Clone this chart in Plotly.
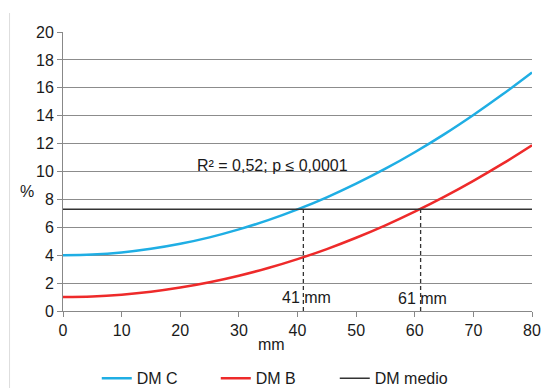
import plotly.graph_objects as go

mm = [0, 5, 10, 15, 20, 25, 30, 35, 40, 45, 50, 55, 60, 65, 70, 75, 80]
dm_c = [4.0, 4.05, 4.2, 4.46, 4.82, 5.28, 5.85, 6.51, 7.28, 8.15, 9.13, 10.2, 11.38, 12.66, 14.05, 15.53, 17.1]
dm_b = [1.0, 1.04, 1.17, 1.38, 1.68, 2.06, 2.53, 3.08, 3.72, 4.44, 5.25, 6.14, 7.12, 8.18, 9.33, 10.56, 11.88]
dm_medio = 7.3
cut_c = 41
cut_b = 61
x_ticks = [0, 10, 20, 30, 40, 50, 60, 70, 80]
y_ticks = [0, 2, 4, 6, 8, 10, 12, 14, 16, 18, 20]

FONT = "Liberation Sans, Arial, sans-serif"

fig = go.Figure()
fig.add_trace(go.Scatter(x=mm, y=dm_c, mode="lines", name="DM C",
                         line=dict(color="#1FAEE4", width=2.5, shape="spline")))
fig.add_trace(go.Scatter(x=mm, y=dm_b, mode="lines", name="DM B",
                         line=dict(color="#EE2A2A", width=2.5, shape="spline")))
fig.add_trace(go.Scatter(x=[mm[0], mm[-1]], y=[dm_medio, dm_medio], mode="lines", name="DM medio",
                         line=dict(color="#333333", width=1.5)))

for xc in (cut_c, cut_b):
    fig.add_shape(type="line", xref="x", yref="y", x0=xc, x1=xc, y0=0, y1=dm_medio,
                  line=dict(color="#333333", width=1.3, dash="4px,3px"))

fig.add_annotation(x=35.7, y=10.45, xref="x", yref="y", text="R² = 0,52; p ≤ 0,0001",
                   showarrow=False, font=dict(size=16, color="#1a1a1a", family=FONT))
fig.add_annotation(x=41.6, y=1.0, xref="x", yref="y", text="41 mm",
                   showarrow=False, font=dict(size=16, color="#1a1a1a", family=FONT))
fig.add_annotation(x=61.3, y=0.9, xref="x", yref="y", text="61 mm",
                   showarrow=False, font=dict(size=16, color="#1a1a1a", family=FONT))
fig.add_annotation(x=35.6, y=-0.12, xref="x", yref="paper", yanchor="middle", text="mm",
                   showarrow=False, font=dict(size=16, color="#1a1a1a", family=FONT))
fig.add_annotation(x=-0.095, y=8.6, xref="paper", yref="y", text="%",
                   showarrow=False, font=dict(size=16, color="#1a1a1a", family=FONT))

# light frame line at the left edge
fig.add_shape(type="line", xref="paper", yref="paper", x0=-0.114, x1=-0.114, y0=-0.28, y1=1.068,
              line=dict(color="#dddddd", width=1))

fig.update_layout(
    width=543, height=388,
    margin=dict(l=63, r=11, t=32, b=77, autoexpand=False),
    paper_bgcolor="white", plot_bgcolor="white",
    font=dict(family=FONT, size=16, color="#1a1a1a"),
    showlegend=True,
    legend=dict(orientation="h", x=0.072, xanchor="left", y=-0.302, yanchor="bottom",
                font=dict(size=16, family=FONT), itemwidth=30,
                entrywidth=74, entrywidthmode="pixels", tracegroupgap=0),
    xaxis=dict(range=[0, 80], tickvals=x_ticks, showgrid=False, zeroline=False,
               showline=True, linecolor="#888888", linewidth=1, automargin=False,
               ticks="outside", ticklen=5, tickcolor="#888888",
               tickfont=dict(size=16, family=FONT)),
    yaxis=dict(range=[0, 20], tickvals=y_ticks, showgrid=True, gridcolor="#8c8c8c", gridwidth=1,
               zeroline=False, showline=True, linecolor="#888888", linewidth=1, automargin=False,
               ticks="outside", ticklen=5, tickcolor="#888888",
               tickfont=dict(size=16, family=FONT)),
)

fig.write_html("out.html", config={"displayModeBar": False},
               post_script="document.body.style.margin='0';")
